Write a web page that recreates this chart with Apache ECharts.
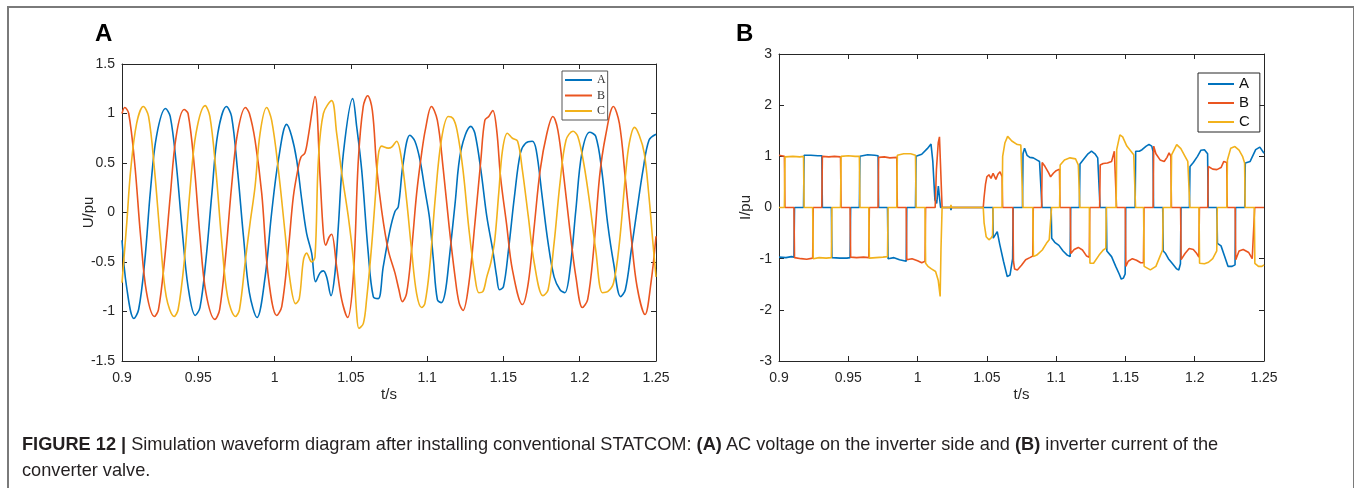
<!DOCTYPE html>
<html>
<head>
<meta charset="utf-8">
<script src="https://cdn.jsdelivr.net/npm/echarts@6/dist/echarts.min.js"></script>
<style>
  html, body { margin: 0; padding: 0; background: #fff; }
  #frame { position: absolute; left: 7px; top: 6px; width: 1344px; height: 520px; border: 2px solid #7a7a7a; border-bottom: none; }
  #chart { position: absolute; left: 0; top: 0; width: 1354px; height: 488px; }
  #cap { position: absolute; left: 22px; top: 431px; width: 1270px; font-family: 'Liberation Sans', Arial, sans-serif; font-size: 18.2px; line-height: 26px; color: #231f20; }
</style>
</head>
<body>
<div id="frame"></div>
<div id="chart"></div>
<div id="cap"><b>FIGURE 12 |</b> Simulation waveform diagram after installing conventional STATCOM: <b>(A)</b> AC voltage on the inverter side and <b>(B)</b> inverter current of the converter valve.</div>
<script>
  // time axis (s)
  var tMin = 0.9, tMax = 1.25, tStep = 0.05;

  // panel A: inverter side AC voltage (pu), [t, u]
  var uA = [
    [0.9000, -0.28], [0.9030, -0.75], [0.9078, -1.07], [0.9109, -0.98], [0.9148, -0.51], [0.9187, 0.23],
    [0.9226, 0.77], [0.9285, 1.05], [0.9316, 0.97], [0.9355, 0.50], [0.9394, -0.17], [0.9433, -0.75],
    [0.9480, -1.04], [0.9511, -0.96], [0.9550, -0.48], [0.9589, 0.19], [0.9628, 0.80], [0.9685, 1.07],
    [0.9718, 0.97], [0.9757, 0.43], [0.9796, -0.24], [0.9835, -0.81], [0.9885, -1.06], [0.9938, -0.65],
    [0.9981, 0.00], [1.0025, 0.53], [1.0079, 0.89], [1.0112, 0.77], [1.0145, 0.53], [1.0178, 0.13],
    [1.0210, -0.21], [1.0243, -0.41], [1.0269, -0.70], [1.0298, -0.61], [1.0320, -0.59], [1.0341, -0.65],
    [1.0370, -0.84], [1.0396, -0.61], [1.0418, -0.14], [1.0451, 0.60], [1.0512, 1.15], [1.0538, 0.87],
    [1.0571, 0.43], [1.0614, -0.41], [1.0647, -0.85], [1.0680, -0.87], [1.0712, -0.55], [1.0756, -0.18],
    [1.0789, 0.01], [1.0811, 0.06], [1.0843, 0.50], [1.0887, 0.78], [1.0920, 0.72], [1.0953, 0.53],
    [1.0985, 0.23], [1.1015, -0.05], [1.1041, -0.48], [1.1067, -0.88], [1.1093, -0.91], [1.1118, -0.81],
    [1.1144, -0.48], [1.1183, 0.09], [1.1222, 0.63], [1.1287, 0.87], [1.1313, 0.80], [1.1352, 0.43],
    [1.1391, -0.04], [1.1430, -0.38], [1.1456, -0.65], [1.1474, -0.78], [1.1500, -0.75], [1.1533, -0.38],
    [1.1572, 0.16], [1.1611, 0.60], [1.1645, 0.70], [1.1689, 0.72], [1.1715, 0.63], [1.1754, 0.16],
    [1.1793, -0.31], [1.1832, -0.65], [1.1871, -0.78], [1.1902, -0.81], [1.1936, -0.58], [1.1975, 0.03],
    [1.2014, 0.60], [1.2066, 0.81], [1.2105, 0.77], [1.2144, 0.43], [1.2183, -0.11], [1.2222, -0.51],
    [1.2268, -0.85], [1.2299, -0.78], [1.2338, -0.38], [1.2376, 0.03], [1.2415, 0.43], [1.2454, 0.73],
    [1.2500, 0.79]
  ];
  var uB = [
    [0.9000, 1.00], [0.9018, 1.06], [0.9044, 1.00], [0.9083, 0.50], [0.9122, -0.24], [0.9161, -0.81],
    [0.9213, -1.05], [0.9239, -0.98], [0.9277, -0.51], [0.9316, 0.16], [0.9355, 0.77], [0.9407, 1.04],
    [0.9433, 1.00], [0.9472, 0.50], [0.9511, -0.24], [0.9550, -0.81], [0.9609, -1.08], [0.9640, -0.98],
    [0.9679, -0.44], [0.9718, 0.26], [0.9757, 0.80], [0.9809, 1.06], [0.9835, 1.00], [0.9872, 0.73],
    [0.9916, 0.19], [0.9959, -0.65], [1.0014, -1.04], [1.0047, -0.95], [1.0090, -0.38], [1.0123, 0.16],
    [1.0156, 0.46], [1.0173, 0.56], [1.0199, 0.60], [1.0221, 0.77], [1.0265, 1.17], [1.0298, 0.36],
    [1.0320, -0.21], [1.0335, -0.33], [1.0357, -0.25], [1.0374, -0.22], [1.0407, -0.55], [1.0440, -0.88],
    [1.0479, -1.06], [1.0516, -0.65], [1.0549, 0.53], [1.0581, 1.07], [1.0610, 1.18], [1.0641, 1.03],
    [1.0669, 0.46], [1.0702, 0.02], [1.0745, -0.38], [1.0789, -0.61], [1.0815, -0.78], [1.0837, -0.90],
    [1.0865, -0.82], [1.0898, -0.38], [1.0931, 0.19], [1.0964, 0.60], [1.0990, 0.85], [1.1028, 1.07],
    [1.1067, 0.93], [1.1106, 0.43], [1.1144, -0.14], [1.1183, -0.65], [1.1209, -0.91], [1.1235, -0.99],
    [1.1274, -0.71], [1.1313, -0.11], [1.1352, 0.53], [1.1378, 0.93], [1.1404, 0.97], [1.1430, 1.03],
    [1.1456, 0.83], [1.1481, 0.36], [1.1520, -0.11], [1.1559, -0.58], [1.1624, -0.93], [1.1663, -0.71],
    [1.1702, -0.14], [1.1741, 0.43], [1.1785, 0.80], [1.1824, 0.97], [1.1857, 0.83], [1.1896, 0.36],
    [1.1935, -0.17], [1.1975, -0.65], [1.2018, -0.96], [1.2052, -0.88], [1.2091, -0.38], [1.2130, 0.36],
    [1.2169, 0.77], [1.2221, 1.07], [1.2260, 0.90], [1.2298, 0.36], [1.2337, -0.24], [1.2376, -0.75],
    [1.2428, -1.03], [1.2467, -0.71], [1.2500, -0.24]
  ];
  var uC = [
    [0.9000, -0.71], [0.9031, -0.11], [0.9057, 0.43], [0.9096, 0.90], [0.9140, 1.07], [0.9174, 0.97],
    [0.9213, 0.43], [0.9252, -0.28], [0.9290, -0.85], [0.9342, -1.05], [0.9368, -0.98], [0.9407, -0.51],
    [0.9446, 0.23], [0.9485, 0.80], [0.9545, 1.08], [0.9576, 0.97], [0.9615, 0.43], [0.9653, -0.28],
    [0.9692, -0.85], [0.9744, -1.05], [0.9770, -0.98], [0.9809, -0.48], [0.9840, -0.10], [0.9872, 0.26],
    [0.9905, 0.80], [0.9948, 1.06], [0.9981, 0.93], [1.0025, 0.43], [1.0069, -0.21], [1.0101, -0.68],
    [1.0138, -0.92], [1.0162, -0.87], [1.0189, -0.48], [1.0210, -0.41], [1.0243, -0.50], [1.0265, -0.45],
    [1.0287, 0.53], [1.0320, 1.00], [1.0374, 1.13], [1.0407, 0.80], [1.0440, 0.40], [1.0483, -0.04],
    [1.0516, -0.48], [1.0538, -1.02], [1.0553, -1.17], [1.0582, -1.12], [1.0603, -0.88], [1.0636, -0.34],
    [1.0662, 0.19], [1.0680, 0.58], [1.0702, 0.67], [1.0745, 0.65], [1.0767, 0.66], [1.0800, 0.72],
    [1.0833, 0.53], [1.0865, 0.13], [1.0898, -0.38], [1.0931, -0.82], [1.0964, -0.96], [1.0985, -0.92],
    [1.1015, -0.58], [1.1054, 0.16], [1.1093, 0.73], [1.1139, 0.97], [1.1170, 0.95], [1.1196, 0.83],
    [1.1235, 0.43], [1.1274, -0.17], [1.1313, -0.65], [1.1339, -0.81], [1.1365, -0.80], [1.1391, -0.65],
    [1.1417, -0.51], [1.1443, -0.28], [1.1469, 0.19], [1.1494, 0.63], [1.1526, 0.80], [1.1559, 0.75],
    [1.1593, 0.72], [1.1624, 0.43], [1.1663, -0.04], [1.1702, -0.51], [1.1759, -0.84], [1.1793, -0.78],
    [1.1832, -0.31], [1.1871, 0.30], [1.1910, 0.73], [1.1956, 0.82], [1.1987, 0.77], [1.2026, 0.50],
    [1.2066, 0.09], [1.2105, -0.38], [1.2149, -0.81], [1.2183, -0.80], [1.2222, -0.71], [1.2260, -0.31],
    [1.2299, 0.36], [1.2325, 0.70], [1.2359, 0.86], [1.2390, 0.78], [1.2423, 0.60], [1.2454, 0.16],
    [1.2480, -0.31], [1.2500, -0.65]
  ];

  // panel B: converter valve current (pu), [t, i]
  var iA = [
    [0.9000, -0.97], [0.9050, -0.98], [0.9090, -0.96], [0.9108, -0.97], [0.9112, 0], [0.9177, 0],
    [0.9181, 1.02], [0.9230, 1.02], [0.9280, 1.01], [0.9309, 1.01], [0.9313, 0], [0.9378, 0],
    [0.9382, -0.98], [0.9440, -0.99], [0.9490, -0.99], [0.9513, -0.98], [0.9517, 0], [0.9580, 0],
    [0.9584, 1.00], [0.9640, 1.03], [0.9690, 1.02], [0.9715, 1.01], [0.9719, 0], [0.9783, 0],
    [0.9787, -1.00], [0.9830, -0.98], [0.9870, -1.02], [0.9918, -1.05], [0.9922, 0], [0.9985, 0],
    [0.9989, 1.00], [1.0030, 1.04], [1.0070, 1.15], [1.0097, 1.24], [1.0110, 0.90], [1.0125, 0.15],
    [1.0138, 0.08], [1.0150, 0.42], [1.0158, 0.20], [1.0166, 0], [1.0238, 0], [1.0241, -0.05],
    [1.0245, 0], [1.0543, 0], [1.0546, -0.60], [1.0560, -0.60], [1.0575, -0.47], [1.0593, -0.72],
    [1.0620, -1.05], [1.0647, -1.35], [1.0667, -1.32], [1.0686, -1.00], [1.0690, 0], [1.0757, 0],
    [1.0761, 1.05], [1.0772, 1.16], [1.0790, 1.02], [1.0810, 0.98], [1.0835, 0.97], [1.0860, 0.93],
    [1.0880, 0.90], [1.0894, 0.88], [1.0898, 0], [1.0964, 0], [1.0968, -0.60], [1.0990, -0.68],
    [1.1020, -0.74], [1.1050, -0.85], [1.1080, -0.93], [1.1101, -0.96], [1.1105, 0], [1.1168, 0],
    [1.1172, 0.85], [1.1200, 0.95], [1.1230, 1.05], [1.1255, 1.10], [1.1280, 1.05], [1.1300, 0.97],
    [1.1313, 0.97], [1.1317, 0], [1.1362, 0], [1.1366, -0.85], [1.1400, -0.96], [1.1430, -1.15],
    [1.1455, -1.30], [1.1470, -1.40], [1.1485, -1.38], [1.1498, -1.30], [1.1502, 0], [1.1570, 0],
    [1.1574, 1.10], [1.1600, 1.10], [1.1620, 1.13], [1.1650, 1.20], [1.1670, 1.23], [1.1690, 1.20],
    [1.1699, 1.10], [1.1703, 0], [1.1769, 0], [1.1773, -0.85], [1.1790, -0.90], [1.1810, -1.00],
    [1.1840, -1.10], [1.1870, -1.20], [1.1885, -1.22], [1.1897, -1.10], [1.1901, 0], [1.1962, 0],
    [1.1966, 0.80], [1.1990, 0.88], [1.2020, 1.00], [1.2045, 1.12], [1.2070, 1.13], [1.2093, 1.05],
    [1.2097, 0], [1.2160, 0], [1.2164, -0.70], [1.2190, -0.75], [1.2215, -0.95], [1.2240, -1.15],
    [1.2270, -1.15], [1.2291, -1.12], [1.2295, 0], [1.2361, 0], [1.2365, 0.87], [1.2400, 0.90],
    [1.2440, 1.13], [1.2470, 1.18], [1.2500, 1.06]
  ];
  var iB = [
    [0.9000, 1.02], [0.9039, 1.00], [0.9043, 0], [0.9108, 0], [0.9112, -0.98], [0.9160, -1.00],
    [0.9200, -1.01], [0.9243, -0.99], [0.9247, 0], [0.9309, 0], [0.9313, 1.00], [0.9360, 0.99],
    [0.9400, 1.00], [0.9444, 0.99], [0.9448, 0], [0.9513, 0], [0.9517, -0.97], [0.9560, -0.98],
    [0.9610, -0.97], [0.9648, -0.98], [0.9652, 0], [0.9715, 0], [0.9719, 0.98], [0.9760, 0.99],
    [0.9800, 0.97], [0.9850, 0.98], [0.9854, 0], [0.9918, 0], [0.9922, -1.02], [0.9960, -1.00],
    [1.0000, -1.04], [1.0030, -1.08], [1.0054, -1.05], [1.0058, 0], [1.0127, 0], [1.0136, 0.74],
    [1.0149, 1.26], [1.0158, 1.38], [1.0166, 0.80], [1.0177, 0], [1.0474, 0], [1.0480, 0.20],
    [1.0490, 0.45], [1.0500, 0.60], [1.0515, 0.64], [1.0530, 0.57], [1.0545, 0.67], [1.0565, 0.55],
    [1.0580, 0.65], [1.0595, 0.70], [1.0610, 0.60], [1.0614, 0], [1.0688, 0], [1.0692, -1.05],
    [1.0700, -1.20], [1.0720, -1.22], [1.0750, -1.13], [1.0780, -1.02], [1.0810, -0.98], [1.0831, -0.95],
    [1.0835, 0], [1.0895, 0], [1.0899, 0.88], [1.0920, 0.80], [1.0945, 0.68], [1.0960, 0.60],
    [1.0980, 0.67], [1.1000, 0.72], [1.1024, 0.75], [1.1028, 0], [1.1102, 0], [1.1106, -0.90],
    [1.1130, -0.82], [1.1160, -0.78], [1.1190, -0.83], [1.1220, -0.95], [1.1239, -0.97], [1.1243, 0],
    [1.1314, 0], [1.1318, 0.83], [1.1340, 0.86], [1.1370, 0.87], [1.1400, 0.90], [1.1420, 1.10],
    [1.1432, 1.10], [1.1436, 0], [1.1499, 0], [1.1503, -1.15], [1.1520, -1.05], [1.1550, -1.00],
    [1.1580, -1.03], [1.1610, -1.08], [1.1630, -1.08], [1.1634, 0], [1.1700, 0], [1.1704, 1.20],
    [1.1720, 1.05], [1.1750, 0.93], [1.1780, 0.90], [1.1800, 0.98], [1.1815, 1.07], [1.1828, 1.00],
    [1.1832, 0], [1.1898, 0], [1.1902, -1.02], [1.1930, -0.90], [1.1960, -0.80], [1.1990, -0.82],
    [1.2015, -0.90], [1.2030, -0.97], [1.2034, 0], [1.2094, 0], [1.2098, 0.80], [1.2130, 0.75],
    [1.2160, 0.74], [1.2190, 0.78], [1.2210, 0.90], [1.2231, 0.88], [1.2235, 0], [1.2292, 0],
    [1.2296, -1.02], [1.2320, -0.85], [1.2350, -0.82], [1.2390, -0.88], [1.2415, -1.00], [1.2429, -1.02],
    [1.2433, 0], [1.2500, 0]
  ];
  var iC = [
    [0.9000, 0], [0.9039, 0], [0.9043, 0.99], [0.9100, 1.00], [0.9150, 0.99], [0.9177, 1.00],
    [0.9181, 0], [0.9243, 0], [0.9247, -1.00], [0.9290, -0.98], [0.9340, -0.99], [0.9378, -0.98],
    [0.9382, 0], [0.9444, 0], [0.9448, 1.00], [0.9500, 1.01], [0.9550, 1.00], [0.9580, 1.00],
    [0.9584, 0], [0.9648, 0], [0.9652, -0.99], [0.9700, -0.98], [0.9750, -0.97], [0.9783, -0.96],
    [0.9787, 0], [0.9850, 0], [0.9854, 1.02], [0.9900, 1.05], [0.9950, 1.05], [0.9985, 1.02],
    [0.9989, 0], [1.0054, 0], [1.0058, -1.09], [1.0075, -1.15], [1.0100, -1.20], [1.0130, -1.25],
    [1.0149, -1.42], [1.0163, -1.74], [1.0169, -0.80], [1.0177, 0], [1.0238, 0], [1.0241, 0.05],
    [1.0245, 0], [1.0474, 0], [1.0480, -0.30], [1.0495, -0.57], [1.0515, -0.63], [1.0530, -0.60],
    [1.0541, -0.55], [1.0545, 0], [1.0610, 0], [1.0614, 1.00], [1.0630, 1.26], [1.0650, 1.39],
    [1.0680, 1.30], [1.0720, 1.23], [1.0745, 1.22], [1.0756, 1.25], [1.0760, 0], [1.0832, 0],
    [1.0836, -0.96], [1.0860, -0.93], [1.0900, -0.83], [1.0930, -0.70], [1.0950, -0.63], [1.0963, -0.60],
    [1.0967, 0], [1.1025, 0], [1.1029, 0.83], [1.1060, 0.93], [1.1100, 0.97], [1.1140, 0.95],
    [1.1160, 0.83], [1.1167, 0.82], [1.1171, 0], [1.1240, 0], [1.1244, -1.09], [1.1270, -1.09],
    [1.1310, -0.93], [1.1340, -0.83], [1.1358, -0.80], [1.1362, 0], [1.1433, 0], [1.1437, 1.13],
    [1.1460, 1.42], [1.1480, 1.38], [1.1510, 1.20], [1.1540, 1.10], [1.1560, 1.03], [1.1569, 1.03],
    [1.1573, 0], [1.1631, 0], [1.1635, -1.15], [1.1680, -1.22], [1.1720, -1.15], [1.1750, -0.95],
    [1.1768, -0.83], [1.1772, 0], [1.1829, 0], [1.1833, 1.03], [1.1870, 1.23], [1.1900, 1.15],
    [1.1930, 1.00], [1.1950, 0.90], [1.1961, 0.87], [1.1965, 0], [1.2031, 0], [1.2035, -1.09],
    [1.2070, -1.10], [1.2100, -1.07], [1.2130, -1.00], [1.2159, -0.85], [1.2163, 0], [1.2232, 0],
    [1.2236, 0.93], [1.2260, 1.16], [1.2290, 1.19], [1.2320, 1.12], [1.2345, 1.00], [1.2360, 0.87],
    [1.2364, 0], [1.2430, 0], [1.2434, -1.09], [1.2460, -1.15], [1.2485, -1.15], [1.2500, -1.12]
  ];

  var colors = ['#0072BD', '#EA5520', '#F2B21C'];
  var axisColor = '#262626';
  var fontSans = "'Liberation Sans', Arial, sans-serif";

  function fmt (v) {
    return String(parseFloat(v.toFixed(2)));
  }

  function xAxes (grid) {
    var base = {
      gridIndex: grid, type: 'value', min: tMin, max: tMax, interval: tStep,
      axisLine: {show: true, onZero: false, lineStyle: {color: axisColor, width: 1}},
      axisTick: {show: true, inside: true, length: 5, lineStyle: {color: axisColor}},
      splitLine: {show: false}
    };
    var bottom = echarts.util.merge({
      position: 'bottom',
      name: 't/s', nameLocation: 'middle', nameGap: 26, nameMoveOverlap: false,
      nameTextStyle: {color: axisColor, fontSize: 15, fontFamily: fontSans},
      axisLabel: {color: axisColor, fontSize: 14, fontFamily: fontSans, margin: 10, formatter: fmt}
    }, base, true);
    var top = echarts.util.merge({position: 'top', axisLabel: {show: false}}, base, true);
    return [bottom, top];
  }

  function yAxes (grid, lo, hi, step, name) {
    var base = {
      gridIndex: grid, type: 'value', min: lo, max: hi, interval: step,
      axisLine: {show: true, onZero: false, lineStyle: {color: axisColor, width: 1}},
      axisTick: {show: true, inside: true, length: 5, lineStyle: {color: axisColor}},
      splitLine: {show: false}
    };
    var left = echarts.util.merge({
      position: 'left',
      name: name, nameLocation: 'middle', nameGap: 26, nameMoveOverlap: false,
      nameTextStyle: {color: axisColor, fontSize: 15, fontFamily: fontSans},
      axisLabel: {color: axisColor, fontSize: 14, fontFamily: fontSans, margin: 7, formatter: fmt}
    }, base, true);
    var right = echarts.util.merge({position: 'right', axisLabel: {show: false}}, base, true);
    return [left, right];
  }

  function line (name, grid, data, color, smooth) {
    return {
      name: name, type: 'line', xAxisIndex: grid * 2, yAxisIndex: grid * 2,
      data: data, symbol: 'none', smooth: smooth, color: color,
      lineStyle: {color: color, width: 1.6}
    };
  }

  var myChart = echarts.init(document.getElementById('chart'), null, {renderer: 'canvas'});
  myChart.setOption({
    animation: false,
    grid: [
      {left: 122, top: 64, width: 534, height: 297},
      {left: 779, top: 54, width: 485, height: 307}
    ],
    xAxis: xAxes(0).concat(xAxes(1)),
    yAxis: yAxes(0, -1.5, 1.5, 0.5, 'U/pu').concat(yAxes(1, -3, 3, 1, 'I/pu')),
    legend: [
      {
        data: ['A', 'B', 'C'], orient: 'vertical', left: 562, top: 71,
        icon: 'rect', itemWidth: 27, itemHeight: 2, itemGap: 3.5, itemTextGap: 4,
        padding: [3, 2, 3, 3], borderColor: '#555', borderWidth: 1, backgroundColor: '#fff',
        textStyle: {fontFamily: "'Liberation Serif', 'Times New Roman', serif", fontSize: 12, lineHeight: 12, color: '#333'}
      },
      {
        data: ['A', 'B', 'C'], orient: 'vertical', left: 1198, top: 73,
        icon: 'rect', itemWidth: 26, itemHeight: 2, itemGap: 3, itemTextGap: 2,
        padding: [3, 10, 2, 10], borderColor: '#262626', borderWidth: 1, backgroundColor: '#fff',
        textStyle: {fontFamily: fontSans, fontSize: 15, lineHeight: 16, color: '#111'}
      }
    ],
    graphic: [
      {type: 'text', left: 95, top: 22, style: {text: 'A', font: 'bold 24px ' + fontSans, fill: '#000'}},
      {type: 'text', left: 736, top: 22, style: {text: 'B', font: 'bold 24px ' + fontSans, fill: '#000'}}
    ],
    series: [
      line('A', 0, uA, colors[0], 0.35),
      line('B', 0, uB, colors[1], 0.35),
      line('C', 0, uC, colors[2], 0.35),
      line('A', 1, iA, colors[0], false),
      line('B', 1, iB, colors[1], false),
      line('C', 1, iC, colors[2], false)
    ]
  });
</script>
</body>
</html>
